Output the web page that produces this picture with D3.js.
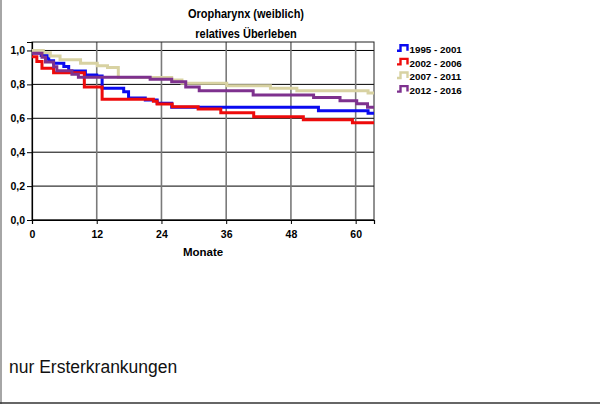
<!DOCTYPE html>
<html><head><meta charset="utf-8">
<script src="https://cdn.jsdelivr.net/npm/d3@7"></script>
<style>
html,body{margin:0;padding:0;background:#fff;}
svg text{font-family:Arial,"Liberation Sans",sans-serif;}
</style></head>
<body>
<svg id="chart" width="600" height="405"></svg>
<script>
// ---- data (month, relative survival) ----
const seriesNames = ["1995 - 2001", "2002 - 2006", "2007 - 2011", "2012 - 2016"];
const seriesColors = ["#0a0af0", "#ee0a0a", "#d8d2a2", "#7e318e"];
const s1995 = [[0,0.985],[1.7,0.97],[2.8,0.954],[3.1,0.94],[4,0.925],[5.9,0.905],[6.8,0.879],[9.9,0.855],[12,0.85],[13,0.777],[17,0.757],[17.9,0.72],[21,0.708],[23.2,0.688],[25.9,0.665],[53.1,0.645],[62.3,0.63],[63.4,0.63]];
const s2002 = [[0,0.963],[0.9,0.935],[1.85,0.895],[4,0.868],[9.7,0.785],[13,0.712],[22.5,0.70],[23.2,0.684],[26,0.668],[30.8,0.655],[35,0.632],[41.1,0.609],[50.3,0.592],[59.4,0.574],[63.4,0.574]];
const s2007 = [[0,1.0],[2.1,0.987],[3.4,0.967],[5.2,0.945],[9,0.925],[12.1,0.91],[14,0.90],[16,0.841],[25.9,0.826],[27.8,0.806],[36.1,0.792],[44.2,0.777],[49.1,0.763],[62.3,0.749],[63.4,0.749]];
const s2012 = [[0,0.983],[1.85,0.96],[2.5,0.932],[4,0.904],[4.6,0.88],[7.4,0.86],[8.6,0.842],[21.9,0.83],[25.9,0.815],[28.5,0.785],[31,0.762],[41,0.737],[52.2,0.722],[57.1,0.703],[60.2,0.686],[62.2,0.665],[63.4,0.665]];
const allSeries = [s1995, s2002, s2007, s2012];
const xTicks = [0, 12, 24, 36, 48, 60];
const yTicks = [0, 0.2, 0.4, 0.6, 0.8, 1.0];
const titleLines = ["Oropharynx (weiblich)", "relatives Überleben"];
const xLabel = "Monate";
const footnote = "nur Ersterkrankungen";

const svg = d3.select("#chart");
const x = d3.scaleLinear().domain([0, 63.4]).range([32, 374]);
const y = d3.scaleLinear().domain([0, 1.05]).range([220, 42]);

// outer frame (left + bottom)
svg.append("line").attr("x1",1).attr("x2",1).attr("y1",0).attr("y2",404).attr("stroke","#888").attr("stroke-width",1.5);
svg.append("line").attr("x1",0).attr("x2",600).attr("y1",403).attr("y2",403).attr("stroke","#333").attr("stroke-width",1.5);

// titles (slightly condensed like the original)
svg.selectAll("text.title").data(titleLines).join("text")
  .attr("class","title")
  .attr("transform",(d,i)=>`translate(246,${17.5+i*20.5}) scale(0.88,1)`)
  .attr("text-anchor","middle").attr("font-weight","bold").attr("font-size","12.5px").attr("fill","#000")
  .text(d=>d);

// horizontal gridlines
svg.append("g").selectAll("line").data(yTicks).join("line")
  .attr("x1",x(0)).attr("x2",x(63.4)).attr("y1",d=>y(d)).attr("y2",d=>y(d))
  .attr("stroke","#000").attr("stroke-width",1);
// vertical gridlines
svg.append("g").selectAll("line").data(xTicks.slice(1)).join("line")
  .attr("x1",d=>x(d)).attr("x2",d=>x(d)).attr("y1",y(1.05)).attr("y2",y(0))
  .attr("stroke","#7a7a7a").attr("stroke-width",1.6);

// frame of plot
svg.append("rect").attr("x",x(0)).attr("y",y(1.05)).attr("width",x(63.4)-x(0)).attr("height",y(0)-y(1.05))
  .attr("fill","none").attr("stroke","#222").attr("stroke-width",1);

// axes
const yAxis = d3.axisLeft(y).tickValues(yTicks).tickSize(5).tickPadding(2)
  .tickFormat(d=>d3.format(".1f")(d).replace(".",","));
const gy = svg.append("g").attr("transform",`translate(${x(0)},0)`).call(yAxis);
const xAxis = d3.axisBottom(x).tickValues(xTicks).tickSize(4).tickPadding(7).tickFormat(d3.format("d"));
const gx = svg.append("g").attr("transform",`translate(0,${y(0)})`).call(xAxis);
[gy,gx].forEach(g=>{
  g.select(".domain").attr("stroke","#000").attr("stroke-width",1.2);
  g.selectAll(".tick line").attr("stroke","#000");
  g.selectAll(".tick text").attr("font-family","Arial,'Liberation Sans',sans-serif")
    .attr("font-size","10.5px").attr("font-weight","bold").attr("fill","#000");
});

svg.append("text").attr("x",203).attr("y",255.5).attr("text-anchor","middle")
  .attr("font-weight","bold").attr("font-size","11.5px").text(xLabel);

// step lines
const line = d3.line().x(d=>x(d[0])).y(d=>y(d[1])).curve(d3.curveStepAfter);
svg.append("g").selectAll("path").data(allSeries).join("path")
  .attr("d",line).attr("fill","none")
  .attr("stroke",(d,i)=>seriesColors[i]).attr("stroke-width",3);

// legend
const lg = svg.append("g").selectAll("g").data(seriesNames).join("g")
  .attr("transform",(d,i)=>`translate(397,${49.3+i*13.6})`);
lg.append("path").attr("d","M0,1.5 H3.5 V-4 H10.5 V1.5").attr("fill","none")
  .attr("stroke",(d,i)=>seriesColors[i]).attr("stroke-width",2.4);
lg.append("text").attr("x",12.5).attr("y",3.6).attr("font-weight","bold").attr("font-size","9.8px").text(d=>d);

// footnote
svg.append("text").attr("x",9).attr("y",373).attr("font-size","17.5px").attr("fill","#111").text(footnote);
</script>
</body></html>
